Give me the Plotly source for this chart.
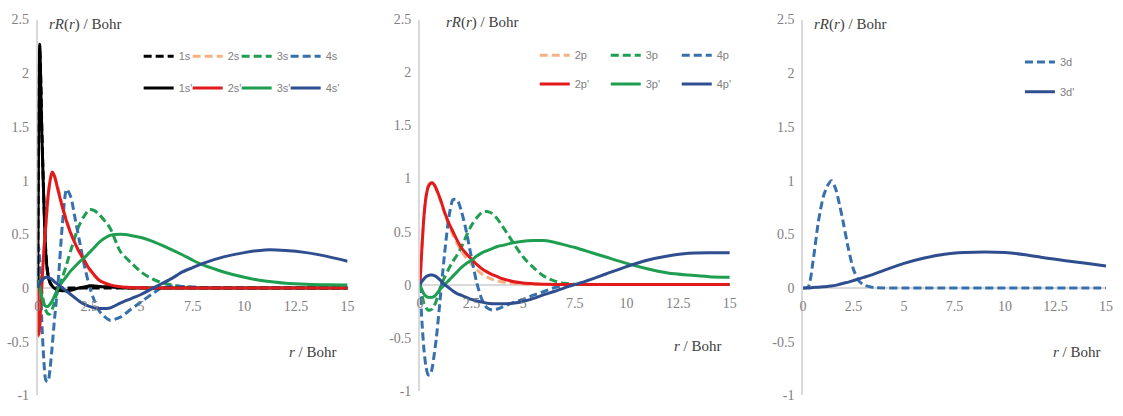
import plotly.graph_objects as go

# ---------------- data ----------------
# Panel 1: s orbitals
R_S = [0, 0.05, 0.1, 0.15, 0.2, 0.3, 0.4, 0.5, 0.6, 0.7, 0.8, 1.0, 1.2, 1.4, 1.6, 1.8, 2.0,
       2.25, 2.5, 2.75, 3.0, 3.5, 4.0, 4.5, 5.0, 5.5, 6.0, 6.5, 7.0, 7.5, 8.0, 9.0, 10.0,
       11.0, 12.0, 13.0, 14.0, 15.0]
S1 = [0, 1.55, 2.22, 1.95, 1.5, 0.82, 0.32, 0.13, 0.05, 0.02, 0.005, 0] + [0] * 26
S2 = [0, -0.45, -0.38, -0.18, 0.0, 0.33, 0.6, 0.84, 1.0, 1.07, 1.05, 0.92, 0.77, 0.63, 0.52,
      0.42, 0.34, 0.25, 0.17, 0.11, 0.07, 0.03, 0.01, 0.004, 0.001] + [0] * 13
S3 = [0, 0.12, 0.1, 0.04, -0.03, -0.14, -0.21, -0.24, -0.24, -0.2, -0.14, 0.0, 0.1, 0.22,
      0.35, 0.47, 0.58, 0.67, 0.73, 0.72, 0.68, 0.56, 0.34, 0.24, 0.15, 0.09, 0.05, 0.03,
      0.015, 0.006, 0.002] + [0] * 7
S4 = [0, 0.38, 0.25, 0.0, -0.3, -0.68, -0.86, -0.87, -0.75, -0.55, -0.32, 0.08, 0.6, 0.92,
      0.85, 0.66, 0.46, 0.22, 0.02, -0.12, -0.22, -0.3, -0.27, -0.2, -0.13, -0.06, 0.0, 0.02,
      0.015, 0.01, 0.005] + [0] * 7
S1P = [0, 1.6, 2.27, 1.9, 1.45, 0.8, 0.3, 0.12, 0.05, 0.02, 0.0, -0.02, -0.025, -0.025,
       -0.02, -0.01, 0.0, 0.01, 0.02, 0.02, 0.015, 0.01, 0.005] + [0] * 15
S2P = [0, -0.44, -0.35, -0.15, 0.02, 0.35, 0.6, 0.85, 1.0, 1.08, 1.05, 0.9, 0.75, 0.62, 0.51,
       0.42, 0.34, 0.26, 0.18, 0.12, 0.07, 0.03, 0.012, 0.005, 0.002] + [0] * 13
S3P = [0, 0.06, 0.02, -0.04, -0.09, -0.15, -0.17, -0.17, -0.15, -0.12, -0.08, 0.0, 0.06,
       0.11, 0.16, 0.2, 0.24, 0.28, 0.33, 0.38, 0.43, 0.49, 0.5, 0.49, 0.47, 0.44, 0.4, 0.355,
       0.31, 0.26, 0.215, 0.15, 0.1, 0.065, 0.045, 0.035, 0.03, 0.028]
S4P = [0, 0.02, 0.04, 0.06, 0.07, 0.09, 0.1, 0.1, 0.09, 0.08, 0.06, 0.03, 0.0, -0.03, -0.06,
       -0.09, -0.12, -0.15, -0.17, -0.185, -0.19, -0.185, -0.14, -0.1, -0.06, -0.01, 0.04,
       0.09, 0.15, 0.19, 0.23, 0.29, 0.33, 0.355, 0.35, 0.33, 0.295, 0.25]

# Panel 2: p orbitals
R_P = [0, 0.1, 0.2, 0.3, 0.4, 0.5, 0.6, 0.7, 0.8, 1.0, 1.2, 1.4, 1.6, 1.8, 2.0, 2.25, 2.5,
       2.75, 3.0, 3.25, 3.5, 3.75, 4.0, 4.5, 5.0, 5.5, 6.0, 6.5, 7.0, 7.5, 8.0, 9.0, 10.0,
       11.0, 12.0, 13.0, 14.0, 15.0]
P2 = [0, 0.36, 0.66, 0.84, 0.93, 0.96, 0.96, 0.94, 0.89, 0.79, 0.67, 0.56, 0.47, 0.39, 0.32,
      0.25, 0.19, 0.14, 0.1, 0.07, 0.05, 0.035, 0.025, 0.012, 0.005, 0.002, 0.001] + [0] * 11
P3 = [0, -0.1, -0.18, -0.22, -0.24, -0.24, -0.23, -0.2, -0.15, -0.02, 0.07, 0.15, 0.22, 0.28,
      0.35, 0.46, 0.56, 0.63, 0.68, 0.69, 0.67, 0.62, 0.55, 0.4, 0.26, 0.16, 0.08, 0.035,
      0.012, 0.004, 0.001] + [0] * 7
P4 = [0, -0.35, -0.62, -0.78, -0.85, -0.85, -0.78, -0.65, -0.5, -0.1, 0.3, 0.63, 0.8, 0.8,
      0.7, 0.5, 0.25, 0.02, -0.14, -0.22, -0.24, -0.23, -0.21, -0.17, -0.14, -0.1, -0.065,
      -0.03, -0.005, 0] + [0] * 8
P2P = [0, 0.35, 0.65, 0.83, 0.92, 0.95, 0.96, 0.94, 0.9, 0.8, 0.68, 0.58, 0.5, 0.42, 0.35,
       0.29, 0.24, 0.19, 0.15, 0.12, 0.095, 0.075, 0.055, 0.03, 0.015, 0.008, 0.004, 0.002,
       0.001] + [0] * 9
P3P = [0, -0.05, -0.09, -0.11, -0.12, -0.12, -0.12, -0.11, -0.09, -0.04, 0.0, 0.04, 0.08,
       0.12, 0.16, 0.2, 0.23, 0.27, 0.3, 0.32, 0.34, 0.36, 0.37, 0.395, 0.41, 0.415, 0.415,
       0.4, 0.375, 0.35, 0.32, 0.26, 0.2, 0.15, 0.11, 0.09, 0.075, 0.07]
P4P = [0, 0.03, 0.055, 0.075, 0.085, 0.09, 0.09, 0.085, 0.075, 0.04, 0.0, -0.03, -0.06,
       -0.085, -0.1, -0.12, -0.14, -0.155, -0.165, -0.175, -0.18, -0.18, -0.18, -0.175, -0.16,
       -0.13, -0.095, -0.065, -0.03, 0.0, 0.03, 0.1, 0.17, 0.23, 0.27, 0.295, 0.3, 0.3]

# Panel 3: d orbitals
R_D = [0, 0.25, 0.5, 0.75, 1.0, 1.2, 1.4, 1.6, 1.8, 2.0, 2.25, 2.5, 2.75, 3.0, 3.5, 4.0,
       5.0, 6.0, 7.0, 8.0, 9.0, 10.0, 11.0, 12.0, 13.0, 14.0, 15.0]
D3 = [0, 0.01, 0.26, 0.61, 0.85, 0.95, 1.0, 0.93, 0.78, 0.6, 0.36, 0.17, 0.07, 0.03, 0.005,
      0] + [0] * 11
D3P = [0, 0.0, 0.005, 0.008, 0.012, 0.015, 0.02, 0.025, 0.035, 0.045, 0.055, 0.07, 0.085,
       0.1, 0.13, 0.165, 0.23, 0.28, 0.315, 0.33, 0.335, 0.33, 0.31, 0.28, 0.255, 0.23, 0.205]

X_TICKS = [0, 2.5, 5, 7.5, 10, 12.5, 15]
X_TICK_TEXT = ["0", "2.5", "5", "7.5", "10", "12.5", "15"]
Y_TICKS = [-1, -0.5, 0, 0.5, 1, 1.5, 2, 2.5]
Y_TICK_TEXT = ["-1", "-0.5", "0", "0.5", "1", "1.5", "2", "2.5"]

# ---------------- styling ----------------
W, H = 1123, 416
BLACK = "#000000"
RED = "#E31A1C"
PEACH = "#F4B183"
GREEN = "#1E9E50"
NAVY = "#2F4E8F"
BLUE = "#3670AD"
DASH = "8px,4px"
LW = 3

# panel pixel boxes: (x_left, x_right, y_top, y_bottom)
PANELS = [(34, 347, 13, 403), (420, 733, 13, 398), (807, 1113, 13, 403)]

fig = go.Figure()


def add(x, y, name, color, dash, idx, legend):
    sfx = "" if idx == 1 else str(idx)
    fig.add_trace(go.Scatter(
        x=x, y=y, mode="lines", name=name,
        line=dict(color=color, width=LW, dash=dash, shape="spline", smoothing=0.7),
        xaxis="x" + sfx, yaxis="y" + sfx, legend=legend, hoverinfo="skip"))


def spacer(legend):
    # empty legend entry so the last label of a tight legend row is not clipped
    fig.add_trace(go.Scatter(x=[None], y=[None], mode="lines", name=" ",
                             line=dict(color="rgba(0,0,0,0)", width=0),
                             legend=legend, hoverinfo="skip"))


# panel 1
add(R_S, S1, "1s", BLACK, DASH, 1, "legend")
add(R_S, S2, "2s", PEACH, DASH, 1, "legend")
add(R_S, S3, "3s", GREEN, DASH, 1, "legend")
add(R_S, S4, "4s", BLUE, DASH, 1, "legend")
spacer("legend")
add(R_S, S1P, "1s'", BLACK, "solid", 1, "legend2")
add(R_S, S2P, "2s'", RED, "solid", 1, "legend2")
add(R_S, S3P, "3s'", GREEN, "solid", 1, "legend2")
add(R_S, S4P, "4s'", NAVY, "solid", 1, "legend2")
spacer("legend2")
# panel 2
add(R_P, P2, "2p", PEACH, DASH, 2, "legend3")
add(R_P, P3, "3p", GREEN, DASH, 2, "legend3")
add(R_P, P4, "4p", BLUE, DASH, 2, "legend3")
add(R_P, P2P, "2p'", RED, "solid", 2, "legend4")
add(R_P, P3P, "3p'", GREEN, "solid", 2, "legend4")
add(R_P, P4P, "4p'", NAVY, "solid", 2, "legend4")
# panel 3
add(R_D, D3, "3d", BLUE, DASH, 3, "legend5")
add(R_D, D3P, "3d'", NAVY, "solid", 3, "legend6")

TICK_FONT = dict(family="Liberation Serif", size=14, color="#808080")
AXIS_COLOR = "#D9D9D9"
layout = dict(width=W, height=H, margin=dict(l=0, r=0, t=0, b=0),
              paper_bgcolor="white", plot_bgcolor="white", showlegend=True)

annotations = []
for i, (x0, x1, y0, y1) in enumerate(PANELS, start=1):
    sfx = "" if i == 1 else str(i)
    xd = [x0 / W, x1 / W]
    yd = [1 - y1 / H, 1 - y0 / H]
    yzero = yd[0] + (0 - (-1)) / 3.5 * (yd[1] - yd[0])
    layout["xaxis" + sfx] = dict(
        domain=xd, range=[0, 15], tickvals=X_TICKS, ticktext=X_TICK_TEXT,
        showgrid=False, zeroline=False, showline=False, ticks="",
        anchor="free", position=yzero, tickfont=TICK_FONT, ticklabelstandoff=8,
        fixedrange=True)
    layout["yaxis" + sfx] = dict(
        domain=yd, range=[-1, 2.5], tickvals=Y_TICKS, ticktext=Y_TICK_TEXT,
        showgrid=False, zeroline=True, zerolinecolor=AXIS_COLOR, zerolinewidth=1.5,
        showline=True, linecolor=AXIS_COLOR, linewidth=1.5, ticks="",
        anchor="x" + sfx, tickfont=TICK_FONT, ticklabelstandoff=4,
        layer="below traces", fixedrange=True)

TITLE_FONT = dict(family="Liberation Serif", size=15, color="#404040")
for (tx, ty) in [(43, 18), (444, 16), (816, 18)]:
    annotations.append(dict(x=tx / W, y=1 - ty / H, xref="paper", yref="paper",
                            xanchor="left", yanchor="middle", showarrow=False,
                            text="<i>rR</i>(<i>r</i>) / Bohr", font=TITLE_FONT))
for (tx, ty) in [(338, 358), (727, 352), (1110, 358)]:
    annotations.append(dict(x=tx / W, y=1 - ty / H, xref="paper", yref="paper",
                            xanchor="right", yanchor="middle", showarrow=False,
                            text="<i>r</i> / Bohr", font=TITLE_FONT))
layout["annotations"] = annotations

LEG_FONT = dict(family="Liberation Sans", size=11, color="#808080")


def leg(px, py, ew):
    return dict(x=px / W, y=1 - py / H, xanchor="left", yanchor="middle",
                orientation="h", entrywidth=ew, entrywidthmode="pixels",
                itemwidth=30, font=LEG_FONT, bgcolor="rgba(0,0,0,0)",
                traceorder="normal", itemclick=False, itemdoubleclick=False)


layout["legend"] = leg(136, 51, 4)
layout["legend2"] = leg(136, 84, 4)
layout["legend3"] = leg(536, 50, 26)
layout["legend4"] = leg(536, 80, 26)
layout["legend5"] = leg(1026, 57, 20)
layout["legend6"] = leg(1026, 88, 20)

fig.update_layout(**layout)
fig.write_html("out.html", config={"displayModeBar": False},
               post_script="document.body.style.margin='0px';")
